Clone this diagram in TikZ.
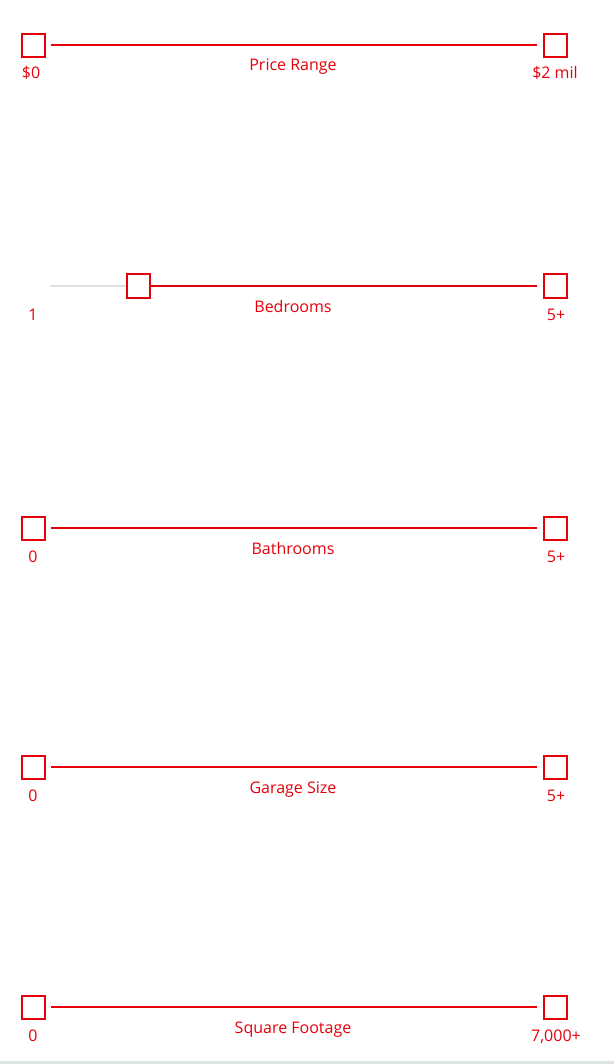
\documentclass[tikz,border=0pt]{standalone}
\usepackage{fontspec}
\setmainfont{Open Sans}
\definecolor{sliderred}{RGB}{230,0,10}
\definecolor{trackgrey}{RGB}{221,226,226}
\begin{document}
\begin{tikzpicture}[x=1pt, y=-1pt,
    knob/.style={draw=sliderred, line width=2pt, minimum size=23pt, inner sep=0pt, fill=white},
    track/.style={draw=sliderred, line width=2pt, shorten <=5pt, shorten >=6pt},
    idle/.style={draw=trackgrey, line width=2pt},
    lbl/.style={text=sliderred, font=\fontsize{16}{19}\selectfont, anchor=base, inner sep=0pt}]
      \useasboundingbox (0,0) rectangle (614,1064);
      \fill[trackgrey] (0,1061) rectangle (614,1064); % bottom rule
      %
      \node[knob] (pl) at (33,45.5) {};          % price range
      \node[knob] (pr) at (555,45.5) {};
      \draw[track] (pl.east) -- (pr.west);
      \node[lbl] (pmin) at (31,79) {\$0};
      \node[lbl] (pmax) at (555,79) {\$2 mil};
      \node[lbl] (ptitle) at (293,71) {Price Range};
      %
      \coordinate (bs) at (50,286);             % bedrooms
      \node[knob] (bl) at (138,286) {};
      \node[knob] (br) at (555,286) {};
      \draw[idle] (bs) -- (bl.west);
      \draw[track, shorten <=0pt] (bl.east) -- (br.west);
      \node[lbl] (bmin) at (33,320) {1};
      \node[lbl] (bmax) at (556,320) {5+};
      \node[lbl] (btitle) at (293,312) {Bedrooms};
      %
      \node[knob] (tl) at (33,528) {};           % bathrooms
      \node[knob] (tr) at (555,528) {};
      \draw[track] (tl.east) -- (tr.west);
      \node[lbl] (tmin) at (33,562) {0};
      \node[lbl] (tmax) at (556,562) {5+};
      \node[lbl] (ttitle) at (293,554) {Bathrooms};
      %
      \node[knob] (gl) at (33,767) {};           % garage size
      \node[knob] (gr) at (555,767) {};
      \draw[track] (gl.east) -- (gr.west);
      \node[lbl] (gmin) at (33,801) {0};
      \node[lbl] (gmax) at (556,801) {5+};
      \node[lbl] (gtitle) at (293,793) {Garage Size};
      %
      \node[knob] (sl) at (33,1007) {};          % square footage
      \node[knob] (sr) at (555,1007) {};
      \draw[track] (sl.east) -- (sr.west);
      \node[lbl] (smin) at (33,1041) {0};
      \node[lbl] (smax) at (556,1041) {7,000+};
      \node[lbl] (stitle) at (293,1033) {Square Footage};
      %
    \end{tikzpicture}
\end{document}
